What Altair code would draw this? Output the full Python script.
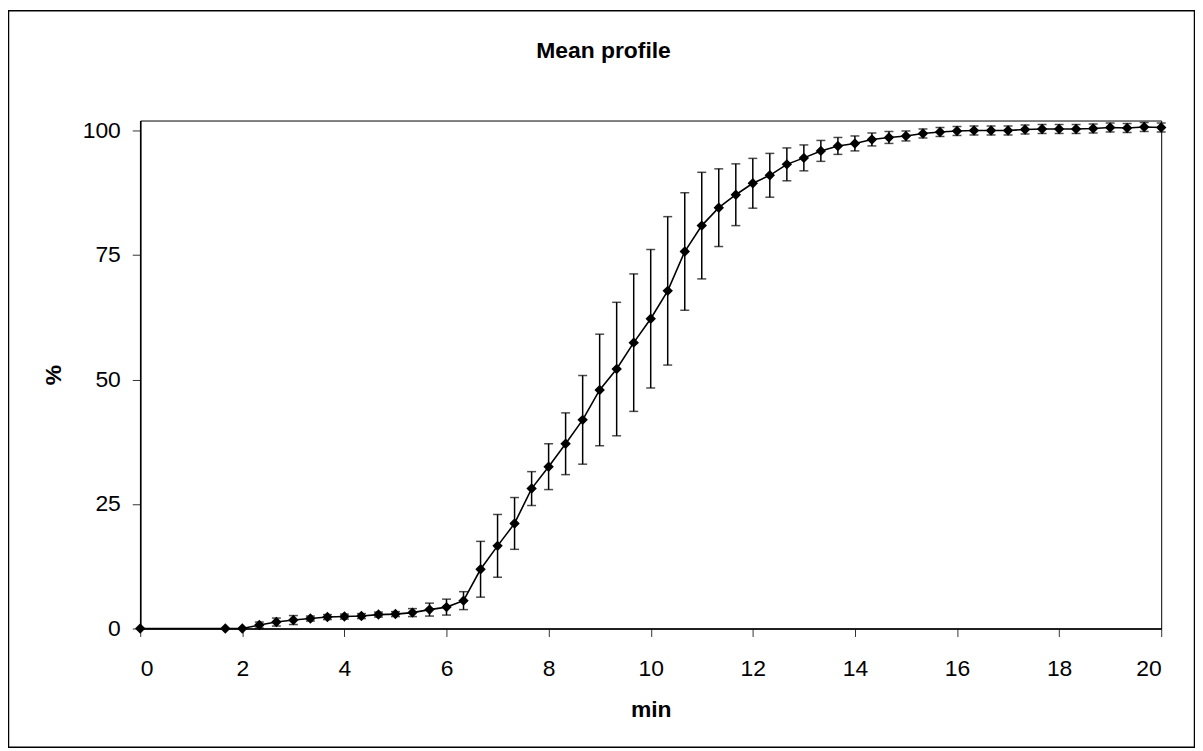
import altair as alt
import pandas as pd

# ---- data ----
minutes = [0, 1.667, 2.0, 2.333, 2.667, 3.0, 3.333, 3.667, 4.0, 4.333, 4.667,
           5.0, 5.333, 5.667, 6.0, 6.333, 6.667, 7.0, 7.333, 7.667, 8.0,
           8.333, 8.667, 9.0, 9.333, 9.667, 10.0, 10.333, 10.667, 11.0, 11.333,
           11.667, 12.0, 12.333, 12.667, 13.0, 13.333, 13.667, 14.0, 14.333, 14.667,
           15.0, 15.333, 15.667, 16.0, 16.333, 16.667, 17.0, 17.333, 17.667, 18.0,
           18.333, 18.667, 19.0, 19.333, 19.667, 20.0]
mean_pct = [0, 0, 0, 0.7, 1.3, 1.7, 2.0, 2.3, 2.4, 2.5, 2.8,
            2.9, 3.2, 3.8, 4.3, 5.6, 11.9, 16.6, 21.1, 28.1, 32.5,
            37.1, 41.9, 47.9, 52.1, 57.4, 62.2, 67.8, 75.7, 80.9, 84.5,
            87.1, 89.4, 91.0, 93.2, 94.5, 95.9, 96.9, 97.4, 98.2, 98.6,
            98.9, 99.4, 99.7, 99.9, 100.0, 100.0, 100.0, 100.2, 100.3, 100.3,
            100.3, 100.4, 100.6, 100.5, 100.7, 100.6]
sd_pct = [0, 0, 0, 0.6, 0.8, 0.9, 0.5, 0.5, 0.5, 0.5, 0.5,
          0.5, 0.8, 1.3, 1.6, 1.8, 5.6, 6.3, 5.2, 3.4, 4.6,
          6.2, 8.9, 11.2, 13.4, 13.8, 13.9, 14.9, 11.8, 10.7, 7.8,
          6.2, 5.0, 4.4, 3.3, 2.6, 2.1, 1.7, 1.5, 1.3, 1.2,
          1.0, 0.9, 0.9, 0.9, 0.9, 0.9, 0.9, 0.9, 0.9, 0.9,
          0.9, 0.9, 0.9, 0.9, 0.9, 0.9]
x_ticks = [0, 2, 4, 6, 8, 10, 12, 14, 16, 18, 20]
y_ticks = [0, 25, 50, 75, 100]
chart_title = ["Mean profile"]
x_title = "min"
y_title = "%"

df = pd.DataFrame({"min": minutes, "pct": mean_pct, "sd": sd_pct})
df["lo"] = df["pct"] - df["sd"]
df["hi"] = df["pct"] + df["sd"]

FONT = "Liberation Sans"
FS = 23
W, H = 1027, 511

xs = alt.Scale(domain=[0, 20], nice=False, zero=False)
ys = alt.Scale(domain=[0, 102], nice=False, zero=True)

x_axis = alt.Axis(values=x_ticks, title=x_title, grid=False, tickSize=8,
                  labelFontSize=FS, labelFont=FONT, labelColor="black",
                  labelBaseline="alphabetic", labelPadding=39,
                  titleFontSize=FS, titleFont=FONT, titleFontWeight="bold",
                  titleColor="black", titleX=W / 2, titleY=88,
                  titleBaseline="alphabetic", titleAlign="center")
y_axis = alt.Axis(values=y_ticks, title=y_title, grid=False, tickSize=8,
                  labelFontSize=FS, labelFont=FONT, labelColor="black",
                  labelPadding=12,
                  titleFontSize=FS, titleFont=FONT, titleFontWeight="bold",
                  titleColor="black", titleAngle=270, titleX=-80, titleY=H / 2,
                  titleBaseline="alphabetic", titleAlign="center")

X = alt.X("min:Q", scale=xs, axis=x_axis)
base = alt.Chart(df)
err = base.transform_filter("datum.sd > 0")

line = base.mark_line(color="black", strokeWidth=1.6).encode(
    x=X, y=alt.Y("pct:Q", scale=ys, axis=y_axis))
bars = err.mark_rule(color="black", strokeWidth=1.5).encode(
    x=X, y=alt.Y("lo:Q", scale=ys, axis=y_axis), y2="hi:Q")
cap_lo = err.mark_tick(orient="horizontal", size=9, thickness=1.5, color="black").encode(
    x=X, y=alt.Y("lo:Q", scale=ys, axis=y_axis))
cap_hi = err.mark_tick(orient="horizontal", size=9, thickness=1.5, color="black").encode(
    x=X, y=alt.Y("hi:Q", scale=ys, axis=y_axis))
pts = base.mark_point(shape="diamond", filled=True, size=110, color="black", opacity=1).encode(
    x=X, y=alt.Y("pct:Q", scale=ys, axis=y_axis))

title = alt.Chart(pd.DataFrame({"t": chart_title})).mark_text(
    font=FONT, fontSize=FS, fontWeight="bold", align="center", baseline="alphabetic",
    color="black").encode(x=alt.value(607 - 141), y=alt.value(56 - 119), text="t:N")

frame = alt.Chart(pd.DataFrame({"a": [0]})).mark_rect(
    fillOpacity=0, stroke="black", strokeWidth=1.5).encode(
    x=alt.value(-132.5), x2=alt.value(W + 33.5), y=alt.value(-110.5), y2=alt.value(H + 119.5))

chart = alt.layer(frame, line, bars, cap_lo, cap_hi, pts, title).properties(
    width=W, height=H,
    autosize=alt.AutoSizeParams(type="none"),
    padding={"left": 133, "top": 111, "right": 34, "bottom": 120},
).configure(font=FONT).configure_view(
    stroke="black", strokeWidth=1
).configure_axis(
    domainColor="black", domainWidth=1.6, tickColor="#333333", tickWidth=1
)

chart.save("out.html", embed_options={"renderer": "svg", "actions": False})
